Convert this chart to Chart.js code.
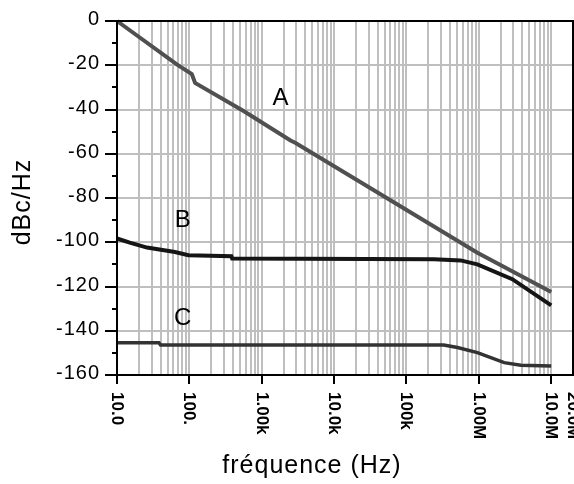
<!DOCTYPE html>
<html>
<head>
<meta charset="utf-8">
<script src="https://cdn.jsdelivr.net/npm/chart.js@4.4.1/dist/chart.umd.min.js"></script>
<style>
html, body { margin: 0; padding: 0; background: #fff; }
#wrap { width: 574px; height: 484px; }
</style>
</head>
<body>
<div id="wrap"><canvas id="chart" width="574" height="484"></canvas></div>
<script>
// curve A
var freqA = [10, 67, 108, 120, 561, 2500, 2900, 57000, 955000, 1e7];
var levelA = [0, -19.6, -24, -28, -40.7, -54, -55, -80.6, -104.7, -122.5];

// curve B
var freqB = [10, 15, 26, 63, 97, 380, 390, 240000, 560000, 955000, 2.9e6, 1e7];
var levelB = [-98.3, -100.2, -102.4, -104.4, -105.9, -106.3, -107.3, -107.7, -108.2, -110, -116.7, -128.5];

// curve C
var freqC = [10, 38, 40, 327000, 507000, 955000, 2.24e6, 3.8e6, 1e7];
var levelC = [-145.4, -145.4, -146.4, -146.4, -147.6, -149.9, -154.4, -155.6, -155.9];

var xTickValues = [10, 100, 1e3, 1e4, 1e5, 1e6, 1e7, 2e7];
var xTickLabels = ['10.0', '100.', '1.00k', '10.0k', '100k', '1.00M', '10.0M', '20.0M'];
var yTickValues = [0, -20, -40, -60, -80, -100, -120, -140, -160];
var yMinorValues = [-10, -30, -50, -70, -90, -110, -130, -150];

var fontFamily = "'Liberation Sans', Arial, sans-serif";

function toPoints(xs, ys) {
    return xs.map(function (x, i) { return { x: x, y: ys[i] }; });
}

// log grid: 1..9 per decade, up to the axis end
var xGridValues = [];
xTickValues.slice(0, 7).forEach(function (d) {
    for (var k = 1; k <= 9; k++) xGridValues.push(d * k);
});
xGridValues.push(2e7);

var framePlugin = {
    id: 'frame',
    afterDraw: function (chart, args, opts) {
        var ctx = chart.ctx, a = chart.chartArea;
        var xs = chart.scales.x, ys = chart.scales.y;
        ctx.save();
        ctx.strokeStyle = '#000';
        ctx.fillStyle = '#000';
        ctx.lineWidth = 2;

        // plot box
        ctx.strokeRect(a.left, a.top, a.right - a.left, a.bottom - a.top);

        // y ticks
        yMinorValues.forEach(function (v) {
            var y = Math.round(ys.getPixelForValue(v));
            ctx.beginPath(); ctx.moveTo(a.left - 5, y); ctx.lineTo(a.left, y); ctx.stroke();
        });
        ctx.font = '20px ' + fontFamily;
        ctx.letterSpacing = '1px';
        ctx.textAlign = 'right';
        ctx.textBaseline = 'middle';
        yTickValues.forEach(function (v) {
            var y = Math.round(ys.getPixelForValue(v));
            ctx.beginPath(); ctx.moveTo(a.left - 12, y); ctx.lineTo(a.left, y); ctx.stroke();
            ctx.fillText(String(v), a.left - 17, y - 2);
        });

        // x ticks, labels rotated clockwise
        ctx.letterSpacing = '0px';
        ctx.font = 'bold 17px ' + fontFamily;
        ctx.textAlign = 'left';
        xTickValues.forEach(function (v, i) {
            var x = Math.round(xs.getPixelForValue(v));
            if (i < 7) {
                ctx.beginPath(); ctx.moveTo(x, a.bottom); ctx.lineTo(x, a.bottom + 9); ctx.stroke();
            }
            ctx.save();
            ctx.translate(x, a.bottom + 17);
            ctx.rotate(Math.PI / 2);
            ctx.fillText(xTickLabels[i], 0, 0);
            ctx.restore();
        });

        // axis titles
        ctx.font = '25px ' + fontFamily;
        ctx.letterSpacing = '1px';
        ctx.textAlign = 'center';
        ctx.fillText('fréquence (Hz)', 312, 466);
        ctx.save();
        ctx.translate(23, 202);
        ctx.rotate(-Math.PI / 2);
        ctx.fillText('dBc/Hz', 0, 0);
        ctx.restore();

        // curve names
        ctx.letterSpacing = '0px';
        ctx.font = '24px ' + fontFamily;
        opts.labels.forEach(function (l) {
            ctx.fillText(l.text, xs.getPixelForValue(l.x), ys.getPixelForValue(l.y));
        });
        ctx.restore();
    }
};

new Chart(document.getElementById('chart'), {
    type: 'line',
    data: {
        datasets: [{
            label: 'A',
            data: toPoints(freqA, levelA),
            borderColor: '#505050',
            borderWidth: 4
        }, {
            label: 'B',
            data: toPoints(freqB, levelB),
            borderColor: '#151515',
            borderWidth: 4
        }, {
            label: 'C',
            data: toPoints(freqC, levelC),
            borderColor: '#333333',
            borderWidth: 3.5
        }]
    },
    options: {
        responsive: false,
        devicePixelRatio: 1,
        animation: false,
        layout: { padding: { top: 21, right: 1, left: 0, bottom: 0 } },
        elements: {
            point: { radius: 0 },
            line: { tension: 0, fill: false }
        },
        datasets: { line: { clip: 4 } },
        plugins: {
            legend: { display: false },
            tooltip: { enabled: false },
            frame: {
                labels: [
                    { text: 'A', x: 1811, y: -34.9 },
                    { text: 'B', x: 80.7, y: -90.1 },
                    { text: 'C', x: 80.7, y: -134.4 }
                ]
            }
        },
        scales: {
            x: {
                type: 'logarithmic',
                min: 10,
                max: 2e7,
                afterBuildTicks: function (scale) {
                    scale.ticks = xGridValues.map(function (v) { return { value: v }; });
                },
                afterFit: function (scale) { scale.height = 109; },
                ticks: { display: false, autoSkip: false },
                border: { display: false },
                grid: { color: '#bfbfbf', lineWidth: 2, drawTicks: false }
            },
            y: {
                type: 'linear',
                min: -160,
                max: 0,
                afterFit: function (scale) { scale.width = 117; },
                ticks: { display: false, stepSize: 20 },
                border: { display: false },
                grid: { color: '#bfbfbf', lineWidth: 2, drawTicks: false }
            }
        }
    },
    plugins: [framePlugin]
});
</script>
</body>
</html>
